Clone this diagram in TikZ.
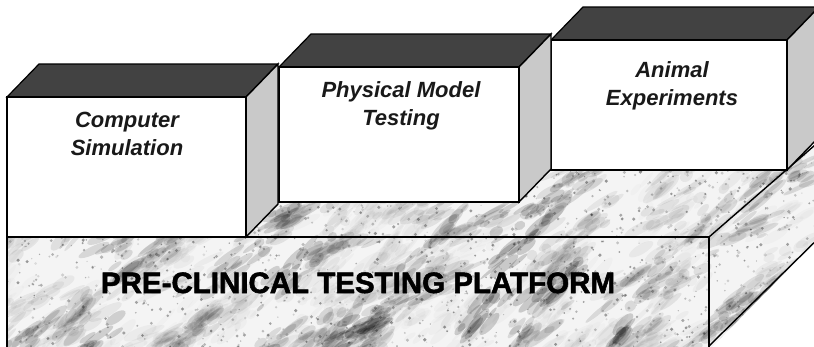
\documentclass[tikz,border=0pt]{standalone}
\usepackage{fontspec}
\setmainfont{Liberation Sans}
\newfontfamily\heavyfont{Liberation Sans}[BoldFeatures={FakeBold=1.8}]
\definecolor{topgray}{HTML}{424242}
\definecolor{sidegray}{HTML}{C9C9C9}
\definecolor{marblebase}{HTML}{F4F4F4}
\tikzset{
  edge/.style={draw=black, line width=1.4pt, line join=miter},
  topface/.style={fill=topgray, draw=black, line width=1.2pt, line join=miter},
  sideface/.style={fill=sidegray, draw=black, line width=1.4pt, line join=miter},
  frontface/.style={fill=white, draw=black, line width=1.4pt, line join=miter},
  boxlabel/.style={font=\fontsize{22}{28}\selectfont\bfseries\itshape, align=center, anchor=north, inner sep=0pt, text=black!90},
  platlabel/.style={font=\heavyfont\fontsize{29.5}{34}\selectfont\bfseries, anchor=base, inner sep=0pt, text=black},
}
\newcommand{\mkbox}[4]{%
  \filldraw[topface] (#1,#2) -- ++(32,-33) -- ++(#3,0) -- ++(-32,33) -- cycle;
  \filldraw[sideface] (#1+#3,#2) -- ++(32,-33) -- ++(0,#4) -- ++(-32,33) -- cycle;
  \filldraw[frontface] (#1,#2) rectangle ++(#3,#4);
}
\newcommand{\marbleclouds}[1]{%
  \foreach \c in {1,...,#1}{%
    \pgfmathsetmacro\cx{-40+rnd*900}%
    \pgfmathsetmacro\cy{110+rnd*260}%
    \pgfmathsetmacro\ca{22+rnd*28}%
    \pgfmathsetmacro\cs{0.2+rnd*rnd*2.4}%
    \foreach \k in {1,...,15}{%
      \pgfmathsetmacro\uu{(rnd+rnd-1)*55}%
      \pgfmathsetmacro\vv{(rnd+rnd-1)*16}%
      \pgfmathsetmacro\px{\cx+\uu*cos(\ca)+\vv*sin(\ca)}%
      \pgfmathsetmacro\py{\cy-\uu*sin(\ca)+\vv*cos(\ca)}%
      \pgfmathsetmacro\ml{5+rnd*14}%
      \pgfmathsetmacro\mw{1.5+rnd*4}%
      \pgfmathsetmacro\mo{min(0.075*\cs,0.2)}%
      \fill[black,opacity=\mo,rotate around={\ca:(\px,\py)}] (\px,\py) ellipse ({\ml} and {\mw});
    }%
  }%
}
\newcommand{\marblegrain}[1]{%
  \foreach \i in {1,...,#1}{%
    \pgfmathsetmacro\mx{-10+rnd*850}%
    \pgfmathsetmacro\my{125+rnd*230}%
    \pgfmathsetmacro\mr{0.6+rnd*1.2}%
    \pgfmathsetmacro\mo{0.1+rnd*0.3}%
    \fill[black,opacity=\mo] (\mx,\my) circle ({\mr});
  }%
}
\begin{document}
\begin{tikzpicture}[x=1pt,y=-1pt]
\useasboundingbox (0,0) rectangle (814,346);
\clip (0,0) rectangle (814,346);
\fill[white] (0,0) rectangle (814,346);
\pgfmathsetseed{11}
% platform faces with marble texture
\begin{scope}
  \clip (7,350) -- (7,237) -- (83,170) -- (787,170) -- (830,132) -- (830,227) -- (709,350) -- cycle;
  \fill[marblebase] (0,100) rectangle (840,350);
  \marbleclouds{200}
  \marblegrain{1800}
\end{scope}
\draw[edge] (7,350) -- (7,237) -- (709,237) -- (709,350);
\draw[edge] (709,237) -- (830,132);
\draw[edge] (709,346) -- (830,227);
% blocks, back to front
\mkbox{551}{40}{236}{130}
\mkbox{279}{67}{240}{135}
\mkbox{7}{97}{239}{140}
% labels
\node[boxlabel] (sim) at (127,112) {Computer\\Simulation};
\node[boxlabel] (phys) at (401,81) {Physical Model\\Testing};
\node[boxlabel] (anim) at (672,61) {Animal\\Experiments};
\node[platlabel] (plat) at (358,293) {PRE-CLINICAL TESTING PLATFORM};
\end{tikzpicture}
\end{document}
